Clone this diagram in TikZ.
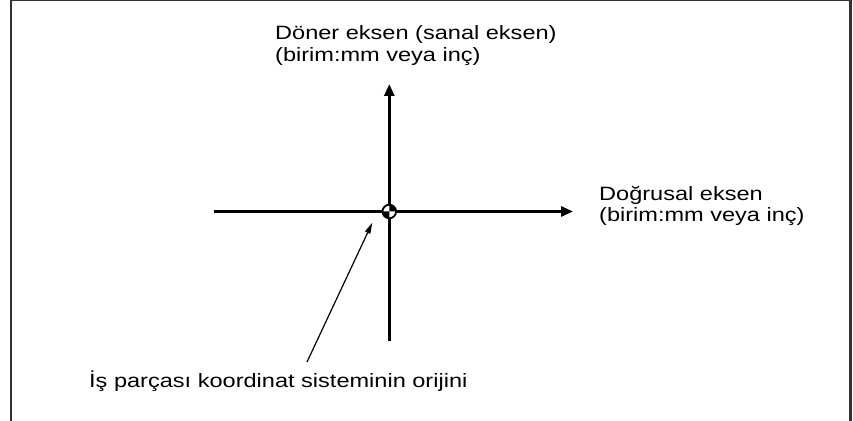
\documentclass[tikz,border=0pt]{standalone}
\usepackage{fontspec}
\setmainfont{Liberation Sans}[FakeStretch=1.22]
\usetikzlibrary{arrows.meta}
\begin{document}
\begin{tikzpicture}[x=1pt,y=1pt,
  axisline/.style={line width=2.8pt,line cap=butt},
  leaderline/.style={line width=1.2pt,-{Triangle[length=11pt,width=5.5pt]}},
  lbl/.style={inner sep=0pt,anchor=base west,font=\fontsize{19.3}{21.5}\selectfont}]
\useasboundingbox (0,0) rectangle (853,420);
\clip (0,0) rectangle (853,420);
% frame
\draw[line width=2.2pt,black!80] (11.2,-5) -- (11.2,420) -- (850.5,420) -- (850.5,-5);
% coordinates
\coordinate (O) at (389.3,208.5);
\coordinate (xl) at (214,208.5);
\coordinate (xr) at (573,208.5);
\coordinate (yt) at (389.3,336);
\coordinate (yb) at (389.3,79);
\coordinate (lstart) at (307,58);
\coordinate (ltip) at (372.3,197.3);
% axes
\draw[axisline] (xl) -- (O);
\draw[axisline,-{Triangle[length=12pt,width=10pt]}] (O) -- (xr);
\draw[axisline] (yb) -- (O);
\draw[axisline,-{Triangle[length=12pt,width=10pt]}] (O) -- (yt);
% origin symbol
\fill[white] (O) circle (6.8);
\fill[black] (O) -- ++(6.8,0) arc (0:90:6.8) -- cycle;
\fill[black] (O) -- ++(-6.8,0) arc (180:270:6.8) -- cycle;
\draw[line width=1.8pt] (O) circle (6.8);
% leader
\draw[leaderline] (lstart) -- (ltip);
% labels
\node[lbl] (ylab1) at (275,380) {Döner eksen (sanal eksen)};
\node[lbl] (ylab2) at (275,358) {(birim:mm veya inç)};
\node[lbl] (xlab1) at (599,219) {Doğrusal eksen};
\node[lbl] (xlab2) at (599,198) {(birim:mm veya inç)};
\node[lbl] (olab) at (89,33) {İş parçası koordinat sisteminin orijini};
\end{tikzpicture}
\end{document}
